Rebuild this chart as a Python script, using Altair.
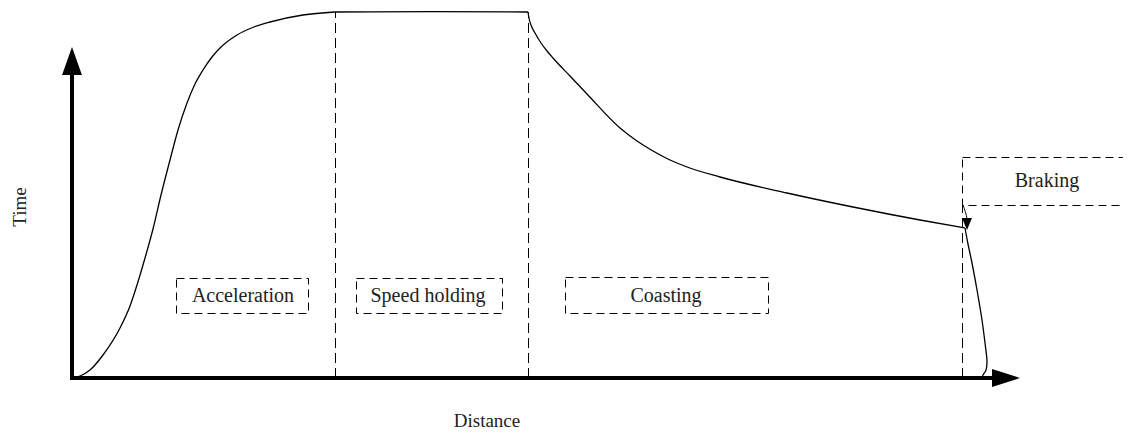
import altair as alt
import pandas as pd

# ---- curve data (distance, time) ----
accel_dist = [0, 8, 18, 31, 48, 58, 65, 73, 81, 89, 98, 106, 115, 123, 131, 140, 148, 165, 182, 198, 231, 263]
accel_time = [0, 2, 8, 23, 50, 72, 93, 120, 149, 183, 218, 248, 275, 294, 308, 321, 330, 343, 351, 356, 363, 366]
hold_dist = [263, 360, 456]
hold_time = [366, 366.3, 366]
coast_dist = [456, 457, 459, 463, 469, 475, 481, 498, 515, 548, 565, 581, 598, 615, 648, 715, 781, 848, 893]
coast_time = [366, 360, 353, 345, 335, 327, 320, 302, 284, 250, 237, 227, 218, 211, 201, 185, 171, 158, 150]
brake_dist = [893, 896, 900, 905, 910, 913, 915, 914, 911, 910]
brake_time = [150, 134, 115, 88, 58, 35, 16, 8, 3, 1]
pointer_dist = [891, 894, 895]
pointer_time = [173, 164, 159]

# ---- phase boundaries (dashed verticals) ----
boundary_dist = [263.5, 456.5, 890.5]
boundary_top = [366, 366, 172.5]

# ---- phase label boxes ----
phase_labels = ["Acceleration", "Speed holding", "Coasting", "Braking"]
box_left = [104.5, 284.5, 493.5, 890.5]
box_right = [236.5, 430.5, 696.5, 1075]
box_bottom = [64.5, 64.5, 64.5, 172.5]
box_top = [99.5, 99.5, 100.5, 220.5]
label_dist = [171, 356, 594, 975]
label_time = [82, 82, 82, 197]

# ---- axis arrows ----
axis_start_dist = [0, 0]
axis_start_time = [0, 0]
axis_end_dist = [923, 0]
axis_end_time = [0, 308]
x_arrow_dist, x_arrow_time = [934], [0]
y_arrow_dist, y_arrow_time = [0], [317]
ptr_arrow_dist, ptr_arrow_time = [895], [154]

axis_titles = ["Distance", "Time"]
axis_title_dist = [415, -52]
axis_title_time = [-43, 171]

xs = alt.Scale(domain=[-64, 1051], nice=False, zero=False)
ys = alt.Scale(domain=[-54, 370], nice=False, zero=False)


def make_df(ds, ts):
    return pd.DataFrame({"dist": ds, "time": ts, "idx": list(range(len(ds)))})


bound_df = pd.DataFrame({"dist": boundary_dist, "time": [0, 0, 0], "time2": boundary_top})
box_df = pd.DataFrame({"x": box_left, "x2": box_right, "y": box_bottom, "y2": box_top})
label_df = pd.DataFrame({"dist": label_dist, "time": label_time, "label": phase_labels})
axis_df = pd.DataFrame({"x": axis_start_dist, "x2": axis_end_dist, "y": axis_start_time, "y2": axis_end_time})
title_df = pd.DataFrame({"dist": axis_title_dist, "time": axis_title_time, "label": axis_titles})


def X(f):
    return alt.X(f, type="quantitative", scale=xs, axis=None)


def Y(f):
    return alt.Y(f, type="quantitative", scale=ys, axis=None)


def curve_layer(ds, ts, interp, width=1.3):
    return alt.Chart(make_df(ds, ts)).mark_line(color="black", strokeWidth=width, interpolate=interp).encode(
        x=X("dist"), y=Y("time"), order="idx:Q")


accel = curve_layer(accel_dist, accel_time, "monotone")
hold = curve_layer(hold_dist, hold_time, "monotone")
coast = curve_layer(coast_dist, coast_time, "monotone")
brake = curve_layer(brake_dist, brake_time, "catmull-rom")
pointer = curve_layer(pointer_dist, pointer_time, "catmull-rom", 1)

axes = alt.Chart(axis_df).mark_rule(color="black", strokeWidth=4, strokeCap="square").encode(
    x=X("x"), x2="x2", y=Y("y"), y2="y2")

x_arrow = alt.Chart(pd.DataFrame({"dist": x_arrow_dist, "time": x_arrow_time})).mark_point(
    shape="M1,0L-1,-0.64L-1,0.64Z", size=784, filled=True, color="black", opacity=1).encode(
    x=X("dist"), y=Y("time"))

y_arrow = alt.Chart(pd.DataFrame({"dist": y_arrow_dist, "time": y_arrow_time})).mark_point(
    shape="M0,-1L0.71,1L-0.71,1Z", size=784, filled=True, color="black", opacity=1).encode(
    x=X("dist"), y=Y("time"))

ptr_arrow = alt.Chart(pd.DataFrame({"dist": ptr_arrow_dist, "time": ptr_arrow_time})).mark_point(
    shape="M0,1L0.83,-1L-0.83,-1Z", size=144, filled=True, color="black", opacity=1).encode(
    x=X("dist"), y=Y("time"))

bounds = alt.Chart(bound_df).mark_rule(color="black", strokeWidth=1, strokeDash=[10, 5]).encode(
    x=X("dist"), y=Y("time"), y2="time2")

boxes = alt.Chart(box_df).mark_rect(fillOpacity=0, stroke="black", strokeWidth=1,
                                    strokeDash=[8, 5], clip=True).encode(
    x=X("x"), x2="x2", y=Y("y"), y2="y2")

labels = alt.Chart(label_df).mark_text(font="Liberation Serif", fontSize=20, color="#222222",
                                       baseline="middle", align="center").encode(
    x=X("dist"), y=Y("time"), text="label:N")

titles = alt.Chart(title_df).mark_text(font="Liberation Serif", fontSize=19, color="#222222",
                                       baseline="middle", align="center").encode(
    x=X("dist"), y=Y("time"), text="label:N",
    angle=alt.Angle("label:N", scale=alt.Scale(domain=axis_titles, range=[0, 270]), legend=None))

chart = alt.layer(bounds, boxes, accel, hold, coast, brake, pointer, ptr_arrow, axes, x_arrow, y_arrow,
                  labels, titles).properties(
    width=1115, height=424, padding=0, autosize=alt.AutoSizeParams(type="none")
).configure_view(stroke=None)

chart.save("out.html", embed_options={"renderer": "svg", "actions": False})
